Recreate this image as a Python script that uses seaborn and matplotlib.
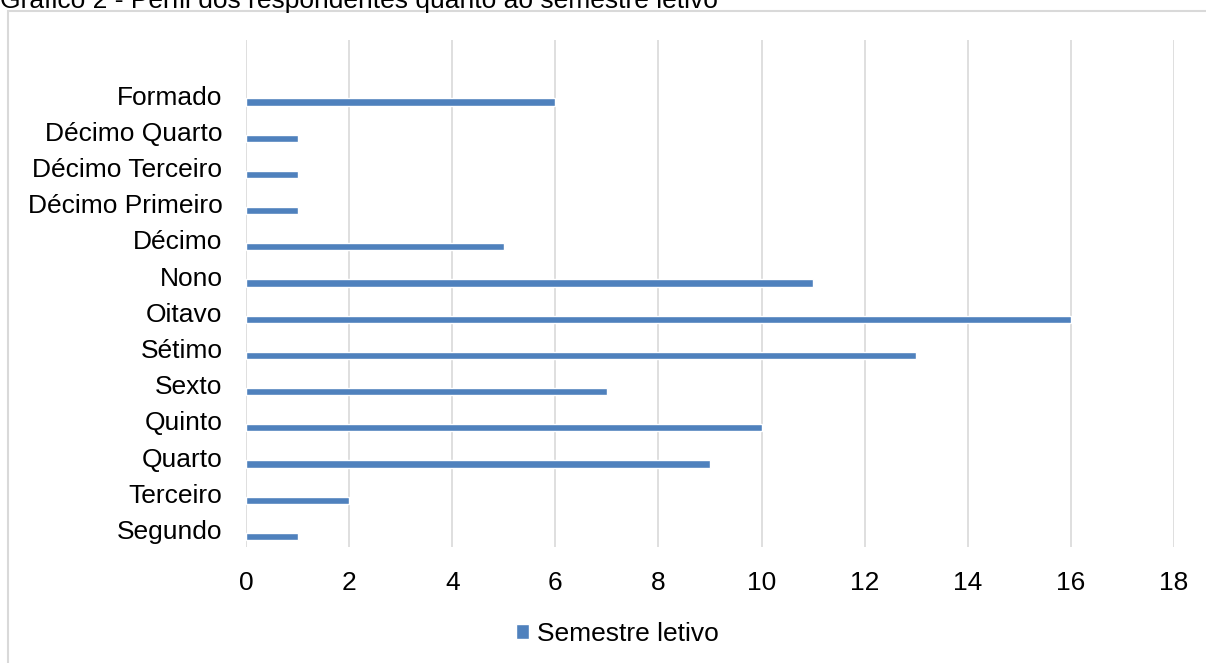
import numpy as np
import pandas as pd
import matplotlib.pyplot as plt
import seaborn as sns
from matplotlib.patches import Rectangle

semestres = ['Formado', 'Décimo Quarto', 'Décimo Terceiro', 'Décimo Primeiro', 'Décimo',
             'Nono', 'Oitavo', 'Sétimo', 'Sexto', 'Quinto', 'Quarto', 'Terceiro', 'Segundo']
respondentes = [6, 1, 1, 1, 5, 11, 16, 13, 7, 10, 9, 2, 1]
serie = 'Semestre letivo'
titulo = 'Gráfico 2 - Perfil dos respondentes quanto ao semestre letivo'

df = pd.DataFrame({'semestre': semestres, 'n': respondentes})

sns.set_style('white')
plt.rcParams['font.family'] = ['Liberation Sans', 'DejaVu Sans']
plt.rcParams['text.color'] = 'black'
plt.rcParams['xtick.color'] = 'black'
plt.rcParams['ytick.color'] = 'black'

fs = 19

fig = plt.figure(figsize=(12.06, 6.63), dpi=100)
ax = fig.add_axes([246 / 1206, 1 - 547 / 663, 928 / 1206, 507 / 663])

sns.barplot(data=df, x='n', y='semestre', orient='h', color='#4f81bd',
            width=0.2, saturation=1, label=serie, ax=ax)

# labels sit a bit above the bars, as in the original
pos = np.arange(len(semestres))
ax.set_yticks(pos - 0.19, semestres)
ax.set_ylim(12.29, -1.71)
ax.set_xlim(0, 18)
ax.set_xticks(range(0, 19, 2))
ax.set_xlabel('')
ax.set_ylabel('')
ax.tick_params(axis='x', length=0, pad=17, labelsize=fs)
ax.tick_params(axis='y', length=0, pad=17, labelsize=fs)
ax.grid(axis='x', color='#d9d9d9', linewidth=1.2)
ax.set_axisbelow(True)
for s in ax.spines.values():
    s.set_visible(False)

ax.legend(loc='center', bbox_to_anchor=(617 / 1206, 1 - 634 / 663),
          bbox_transform=fig.transFigure, frameon=False, fontsize=fs,
          handlelength=0.5, handleheight=0.5, handletextpad=0.3)

# chart frame (cut off at the right and bottom)
fig.add_artist(Rectangle((8 / 1206, -0.1), 1.1, 1.1 - 11 / 663,
                         transform=fig.transFigure, fill=False,
                         edgecolor='#d9d9d9', linewidth=1.5))
fig.text(0.0, 1 - 8 / 663, titulo, fontsize=fs, va='baseline', ha='left')

fig.savefig('out.png', dpi=100)
